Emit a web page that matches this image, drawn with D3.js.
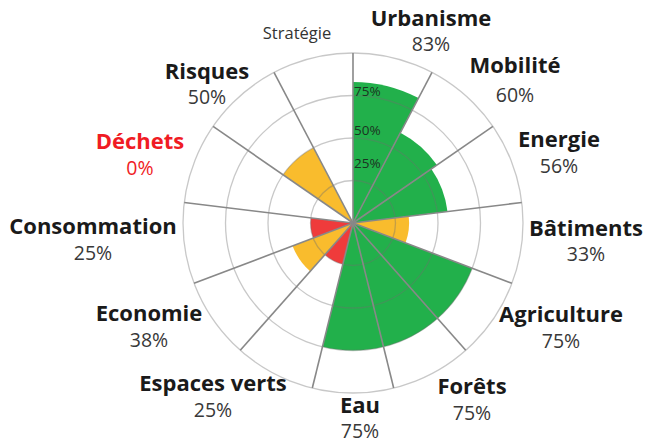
<!DOCTYPE html>
<html>
<head>
<meta charset="utf-8">
<script src="https://cdn.jsdelivr.net/npm/d3@7"></script>
<style>
  body { margin: 0; background: #fff; }
  text { font-family: 'Open Sans', sans-serif; }
</style>
</head>
<body>
<svg></svg>
<script>
const width = 648;
const height = 444;
const cx = 353;
const cy = 223;
const outer = 170;

// data
const categories = ['Urbanisme', 'Mobilité', 'Energie', 'Bâtiments', 'Agriculture', 'Forêts', 'Eau',
  'Espaces verts', 'Economie', 'Consommation', 'Déchets', 'Risques', 'Stratégie'];
const values = [83, 60, 56, 33, 75, 75, 75, 25, 38, 25, 0, 50, null];
const ringTicks = [25, 50, 75, 100];
const tickLabels = ['25%', '50%', '75%'];

// label placement (x, name baseline, pct baseline)
const labelPos = [
  [431, 26, 51], [515, 73, 102], [559, 147, 173], [586, 236, 261], [561, 322, 348],
  [472, 394, 420], [360, 413, 438], [213, 391, 417], [149, 321, 347], [93, 234, 260],
  [140, 149, 175], [207, 79, 104], [297, 39, null]
];
const tickLabelShift = [-13, -3, 0];

const svg = d3.select('svg')
  .attr('width', width)
  .attr('height', height);

const angle = d3.scaleBand()
  .domain(categories)
  .range([0, 2 * Math.PI])
  .padding(0);
const rScale = d3.scaleLinear()
  .domain([0, 100])
  .range([0, outer]);
const colorScale = d3.scaleThreshold()
  .domain([26, 51])
  .range(['#ef3b3b', '#f9bc2d', '#22b04b']);

const g = svg.append('g')
  .attr('transform', `translate(${cx}, ${cy})`);

const arc = d3.arc()
  .innerRadius(0)
  .outerRadius(d => rScale(d.v))
  .startAngle(d => angle(d.c))
  .endAngle(d => angle(d.c) + angle.bandwidth());

const rows = categories.map((c, i) => ({ c: c, v: values[i] }));

g.selectAll('path.sector')
  .data(rows.filter(d => d.v))
  .enter()
  .append('path')
    .attr('class', 'sector')
    .attr('d', arc)
    .attr('fill', d => colorScale(d.v));

// rings
g.selectAll('circle.ring')
  .data(ringTicks)
  .enter()
  .append('circle')
    .attr('r', d => rScale(d))
    .attr('fill', 'none')
    .attr('stroke', '#6e6e6e')
    .attr('stroke-opacity', 0.38)
    .attr('stroke-width', 1.3);

// spokes
g.selectAll('line.spoke')
  .data(categories)
  .enter()
  .append('line')
    .attr('x1', 0)
    .attr('y1', 0)
    .attr('x2', d => rScale(100) * Math.sin(angle(d)))
    .attr('y2', d => -rScale(100) * Math.cos(angle(d)))
    .attr('stroke', '#888')
    .attr('stroke-width', 1.6);

// ring labels
g.selectAll('text.tick')
  .data(tickLabels)
  .enter()
  .append('text')
    .attr('x', 1)
    .attr('y', (d, i) => -rScale(ringTicks[i]) + tickLabelShift[i])
    .attr('fill', '#1c3322')
    .style('font-size', '13.5px')
    .text(d => d);

// category labels
const labels = svg.selectAll('g.label')
  .data(rows)
  .enter()
  .append('g')
    .attr('class', 'label');

labels.append('text')
  .attr('x', (d, i) => labelPos[i][0])
  .attr('y', (d, i) => labelPos[i][1])
  .attr('text-anchor', 'middle')
  .attr('fill', d => d.v === 0 ? '#f01c24' : (d.v === null ? '#333' : '#1a1a1a'))
  .style('font-weight', d => d.v === null ? 'normal' : 'bold')
  .style('font-size', d => d.v === null ? '16.5px' : '22px')
  .text(d => d.c);

labels.filter(d => d.v !== null)
  .append('text')
  .attr('x', d => labelPos[categories.indexOf(d.c)][0])
  .attr('y', d => labelPos[categories.indexOf(d.c)][2])
  .attr('text-anchor', 'middle')
  .attr('fill', d => d.v === 0 ? '#f01c24' : '#383838')
  .style('font-size', '19.5px')
  .text(d => d.v + '%');
</script>
</body>
</html>
